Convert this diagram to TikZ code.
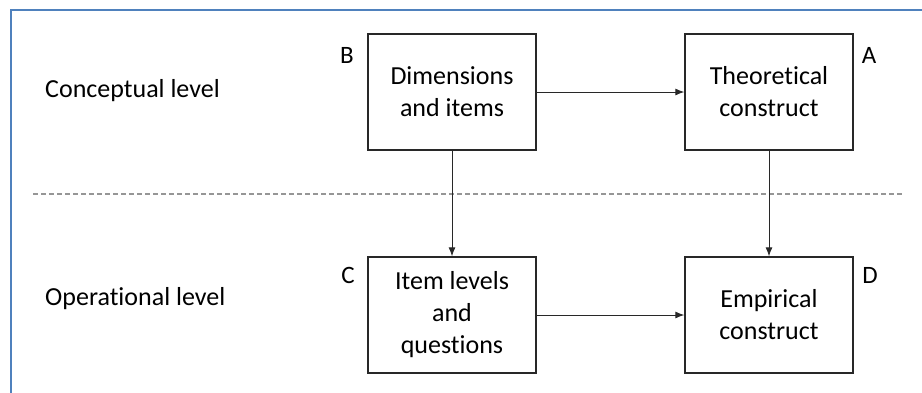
\documentclass[tikz,border=0pt]{standalone}
\usepackage{fontspec}
\setmainfont{Carlito}[Ligatures={NoCommon,NoRare,NoContextual}, Contextuals={NoAlternate}]
\usetikzlibrary{arrows.meta}
\definecolor{frameblue}{RGB}{79,129,189}
\definecolor{boxline}{RGB}{40,40,40}
\definecolor{dashgray}{RGB}{150,150,150}
\tikzset{
  box/.style={draw=boxline, line width=1.4pt, minimum width=168pt, minimum height=116pt,
    inner sep=0pt, align=center, font=\fontsize{26pt}{32pt}\selectfont},
  lab/.style={font=\fontsize{25pt}{28pt}\selectfont, inner sep=0pt},
  lvl/.style={font=\fontsize{26pt}{32pt}\selectfont, inner sep=0pt, anchor=base west},
  conn/.style={draw=boxline, line width=0.9pt, -{Latex[length=9pt,width=7pt]}}
}
\begin{document}
\begin{tikzpicture}[x=1pt,y=-1pt]
\useasboundingbox (0,0) rectangle (922,392);
\fill[white] (0,0) rectangle (922,392);
\draw[frameblue, line width=2.2pt] (11,400) -- (11,10) -- (930,10);
\draw[dashgray, line width=1.2pt, dash pattern=on 5pt off 3pt] (33,194) -- (903,194);
\node[lvl] (cl) at (45,97) {Conceptual level};
\node[lvl] (ol) at (45,305) {Operational level};
\node[box] (B) at (452,92) {Dimensions\\and items};
\node[box] (A) at (769,92) {Theoretical\\construct};
\node[box] (C) at (452,315) {Item levels\\and\\questions};
\node[box] (D) at (769,315) {Empirical\\construct};
\node[lab] (lB) at (347,55) {B};
\node[lab] (lA) at (869,55) {A};
\node[lab] (lC) at (348,275) {C};
\node[lab] (lD) at (870,275) {D};
\draw[conn] (B) -- (A);
\draw[conn] (C) -- (D);
\draw[conn] (B) -- (C);
\draw[conn] (A) -- (D);
\end{tikzpicture}
\end{document}
